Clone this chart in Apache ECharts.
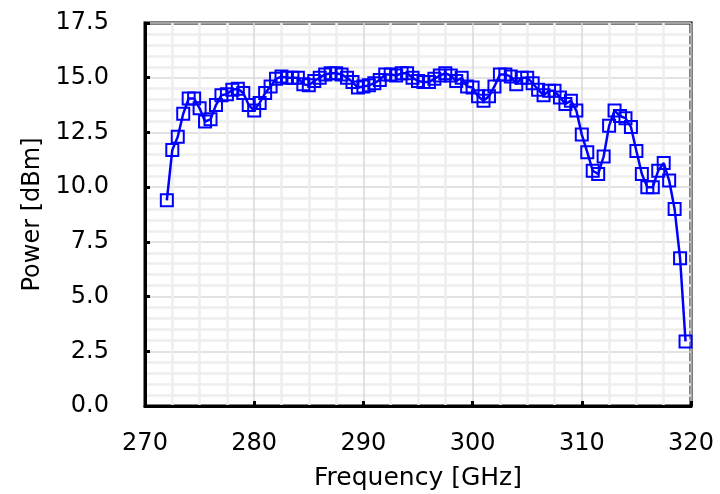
<!DOCTYPE html>
<html>
<head>
<meta charset="utf-8">
<script src="https://cdn.jsdelivr.net/npm/echarts@6/dist/echarts.min.js"></script>
<style>
html, body { margin: 0; padding: 0; background: #fff; }
#main { width: 720px; height: 494px; }
</style>
</head>
<body>
<div id="main"></div>
<script>
// frequency points, GHz (0.5 GHz step)
let freq = [];
for (let f = 272; f <= 319.5; f += 0.5) freq.push(f);

// output power, dBm
let power = [
    9.4, 11.7, 12.3, 13.35, 14.05, 14.05, 13.6, 13.0, 13.1, 13.75,
    14.2, 14.25, 14.45, 14.5, 14.3, 13.75, 13.5, 13.85, 14.3, 14.6,
    14.95, 15.05, 15.0, 15.0, 15.0, 14.7, 14.65, 14.85, 15.0, 15.15,
    15.2, 15.2, 15.15, 15.0, 14.8, 14.55, 14.6, 14.65, 14.75, 14.9,
    15.15, 15.15, 15.1, 15.2, 15.2, 15.0, 14.85, 14.8, 14.8, 14.95,
    15.1, 15.2, 15.1, 14.85, 15.0, 14.6, 14.55, 14.15, 13.95, 14.15,
    14.6, 15.15, 15.15, 15.05, 14.7, 15.0, 15.0, 14.75, 14.45, 14.2,
    14.4, 14.4, 14.1, 13.8, 13.95, 13.5, 12.4, 11.6, 10.75, 10.6,
    11.4, 12.8, 13.5, 13.25, 13.15, 12.75, 11.65, 10.6, 10.0, 10.0,
    10.75, 11.1, 10.3, 9.0, 6.75, 2.95
];

let chart = echarts.init(document.getElementById('main'));
let font = 'DejaVu Sans';

option = {
    animation: false,
    grid: {
        left: 145,
        right: 29,
        top: 23,
        bottom: 88,
        outerBoundsMode: 'none',
        show: true,
        borderColor: '#000',
        borderWidth: 3
    },
    xAxis: {
        type: 'value',
        min: 270,
        max: 320,
        interval: 10,
        name: 'Frequency [GHz]',
        nameLocation: 'middle',
        nameGap: 60,
        nameTextStyle: { fontFamily: font, fontSize: 25, color: '#000' },
        axisLine: { lineStyle: { color: '#000', width: 3 } },
        axisTick: { inside: true, length: 5, lineStyle: { color: '#000', width: 3 } },
        axisLabel: { margin: 26, fontFamily: font, fontSize: 24, color: '#000' },
        splitLine: { lineStyle: { color: '#d9d9d9', width: 1.5 } },
        minorTick: { show: false, splitNumber: 4 },
        minorSplitLine: { show: true, lineStyle: { color: '#eeeeee', width: 2.5 } }
    },
    yAxis: {
        type: 'value',
        min: 0,
        max: 17.5,
        interval: 2.5,
        name: 'Power [dBm]',
        nameLocation: 'middle',
        nameGap: 100,
        nameTextStyle: { fontFamily: font, fontSize: 24, color: '#000' },
        axisLine: { show: true, lineStyle: { color: '#000', width: 3 } },
        axisTick: { show: true, inside: true, length: 5, lineStyle: { color: '#000', width: 3 } },
        axisLabel: {
            margin: 36,
            fontFamily: font,
            fontSize: 24,
            color: '#000',
            formatter: v => v.toFixed(1)
        },
        splitLine: { lineStyle: { color: '#d9d9d9', width: 1.5 } },
        minorTick: { show: false, splitNumber: 5 },
        minorSplitLine: { show: true, lineStyle: { color: '#eeeeee', width: 2.5 } }
    },
    series: [
        {
            type: 'line',
            data: freq.map((f, i) => [f, power[i]]),
            symbol: 'rect',
            symbolSize: 12,
            lineStyle: { color: '#0000ff', width: 2.5 },
            itemStyle: { color: 'rgba(0,0,0,0)', borderColor: '#0000ff', borderWidth: 2 }
        }
    ]
};
chart.setOption(option);
</script>
</body>
</html>
